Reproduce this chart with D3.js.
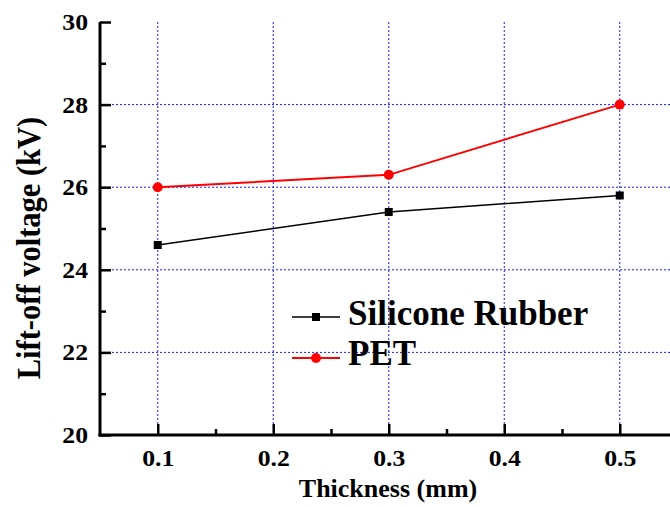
<!DOCTYPE html>
<html>
<head>
<meta charset="utf-8">
<script src="https://cdn.jsdelivr.net/npm/d3@7"></script>
<style>
  html, body { margin: 0; padding: 0; background: #fff; }
  svg { display: block; }
</style>
</head>
<body>
<svg id="chart" width="670" height="507"></svg>
<script>
// Thickness values (mm) and measured lift-off voltages (kV)
const thickness = [0.1, 0.3, 0.5];
const siliconeRubber = [24.6, 25.4, 25.8];
const pet = [26.0, 26.3, 28.0];
const seriesNames = ["Silicone Rubber", "PET"];
const xTicks = [0.1, 0.2, 0.3, 0.4, 0.5];
const yTicks = [20, 22, 24, 26, 28, 30];
const xMinor = [0.15, 0.25, 0.35, 0.45];
const yMinor = [21, 23, 25, 27, 29];

const FONT = "'Liberation Serif', 'Times New Roman', serif";
const svg = d3.select("#chart");
const plotLeft = 100, plotTop = 22, plotBottom = 435;

const x = d3.scaleLinear().domain([0.05, 0.55]).range([plotLeft, plotLeft + 577.5]);
const y = d3.scaleLinear().domain([20, 30]).range([plotBottom, plotTop]);

function boldText(sel, size) {
  return sel.style("font-family", FONT).style("font-weight", "bold")
    .style("font-size", size + "px").attr("fill", "#000");
}

// Dotted grid
const grid = svg.append("g").attr("stroke", "#1a1aff").attr("stroke-width", 1)
  .attr("stroke-dasharray", "2,2").attr("fill", "none");
xTicks.forEach(t => grid.append("line")
  .attr("x1", x(t)).attr("x2", x(t)).attr("y1", plotTop).attr("y2", plotBottom));
yTicks.filter(t => t > 20 && t < 30).forEach(t => grid.append("line")
  .attr("x1", plotLeft).attr("x2", 670).attr("y1", y(t)).attr("y2", y(t)));

// Axes with inward ticks
const xAxis = svg.append("g").attr("transform", `translate(0,${plotBottom})`)
  .call(d3.axisBottom(x).tickValues(xTicks).tickFormat(d3.format(".1f"))
    .tickSizeInner(-11).tickSizeOuter(0).tickPadding(15));
svg.append("g").attr("transform", `translate(0,${plotBottom})`)
  .call(d3.axisBottom(x).tickValues(xMinor).tickFormat("").tickSizeInner(-6).tickSizeOuter(0))
  .select(".domain").remove();

const yAxis = svg.append("g").attr("transform", `translate(${plotLeft},0)`)
  .call(d3.axisLeft(y).tickValues(yTicks).tickFormat(d3.format("d"))
    .tickSizeInner(-11).tickSizeOuter(0).tickPadding(12));
svg.append("g").attr("transform", `translate(${plotLeft},0)`)
  .call(d3.axisLeft(y).tickValues(yMinor).tickFormat("").tickSizeInner(-6).tickSizeOuter(0))
  .select(".domain").remove();

svg.selectAll(".domain").attr("stroke-width", 3).attr("stroke", "#000");
svg.selectAll(".tick line").attr("stroke-width", 2.5).attr("stroke", "#000");

// Tick labels: slightly wide bold serif digits
const stretch = 1.12;
xAxis.selectAll(".tick text").call(boldText, 23)
  .attr("transform", `scale(${stretch},1)`);
yAxis.selectAll(".tick text").call(boldText, 23)
  .attr("x", -12 / stretch).attr("dy", "0.33em")
  .attr("transform", `scale(${stretch},1)`);

// Axis lines: x runs to the right edge
xAxis.select(".domain").attr("d", `M${plotLeft - 1.5},0H670`);
yAxis.select(".domain").attr("d", `M0,${plotTop}V${plotBottom + 1.5}`);

// Axis titles
svg.append("text").attr("x", 388).attr("y", 497).attr("text-anchor", "middle")
  .call(boldText, 26).text("Thickness (mm)");
svg.append("text").attr("transform", `translate(40,248) rotate(-90) scale(1,1.13)`)
  .attr("text-anchor", "middle").call(boldText, 30.5).text("Lift-off voltage (kV)");

// Series
const line = d3.line().x(d => x(d[0])).y(d => y(d[1]));
const srData = thickness.map((t, i) => [t, siliconeRubber[i]]);
const petData = thickness.map((t, i) => [t, pet[i]]);

svg.append("path").datum(srData).attr("d", line).attr("fill", "none")
  .attr("stroke", "#000").attr("stroke-width", 1.6);
svg.append("g").selectAll("rect").data(srData).join("rect")
  .attr("x", d => x(d[0]) - 4).attr("y", d => y(d[1]) - 4)
  .attr("width", 8).attr("height", 8).attr("fill", "#000");

svg.append("path").datum(petData).attr("d", line).attr("fill", "none")
  .attr("stroke", "#ff0000").attr("stroke-width", 1.9);
svg.append("g").selectAll("circle").data(petData).join("circle")
  .attr("cx", d => x(d[0])).attr("cy", d => y(d[1])).attr("r", 5).attr("fill", "#ff0000");

// Legend
const legend = svg.append("g");
const legendRows = [
  { name: seriesNames[0], color: "#000", shape: "square", y: 317, base: 325 },
  { name: seriesNames[1], color: "#ff0000", shape: "circle", y: 358, base: 365 }
];
legendRows.forEach(r => {
  legend.append("line").attr("x1", 292).attr("x2", 340).attr("y1", r.y).attr("y2", r.y)
    .attr("stroke", r.color).attr("stroke-width", r.shape === "circle" ? 1.9 : 1.6);
  if (r.shape === "square") {
    legend.append("rect").attr("x", 312).attr("y", r.y - 4).attr("width", 8).attr("height", 8).attr("fill", r.color);
  } else {
    legend.append("circle").attr("cx", 316).attr("cy", r.y).attr("r", 5).attr("fill", r.color);
  }
  legend.append("text").attr("x", 348).attr("y", r.base).call(boldText, 35).text(r.name);
});
</script>
</body>
</html>
